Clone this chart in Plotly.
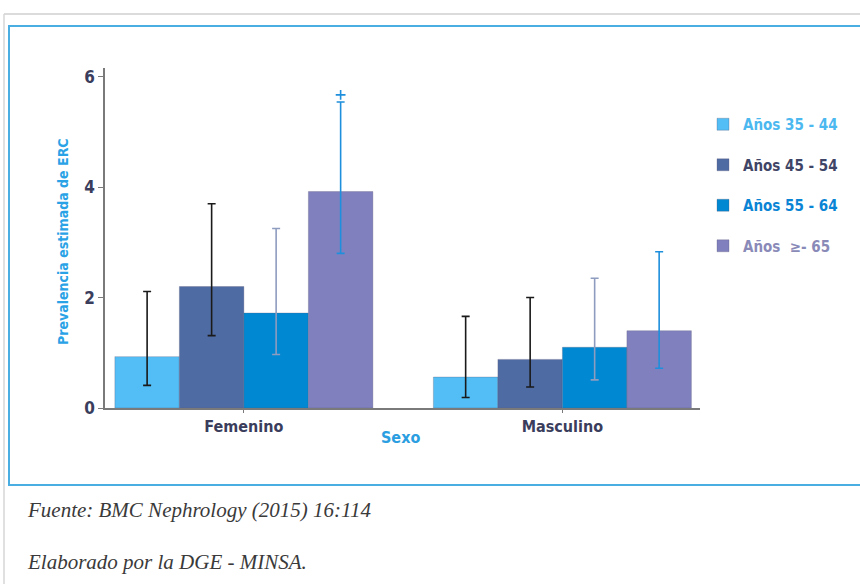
import plotly.graph_objects as go

# Estimated CKD prevalence by sex and age group
sexos = ["Femenino", "Masculino"]
grupos = ["Años 35 - 44", "Años 45 - 54", "Años 55 - 64", "Años  ≥- 65"]
prevalencia = [
    [0.93, 0.56],
    [2.20, 0.88],
    [1.72, 1.10],
    [3.92, 1.40],
]
ic_superior = [
    [2.11, 1.66],
    [3.70, 2.00],
    [3.25, 2.35],
    [5.54, 2.83],
]
ic_inferior = [
    [0.41, 0.19],
    [1.31, 0.38],
    [0.97, 0.51],
    [2.80, 0.72],
]
# outlying point above the ≥65 female interval
atipico_sexo = 0
atipico_valor = 5.67

colores = ["#52BEF5", "#4F6BA3", "#0088D2", "#8180BE"]
colores_error = ["#1a1a1a", "#1a1a1a", "#8e9cc0", "#1e8fdc"]
colores_texto = ["#4cb8f0", "#3f4566", "#0a84d4", "#8a8ab8"]

FONT = "DejaVu Sans Condensed, Liberation Sans Narrow, Arial Narrow, sans-serif"
W, H = 860, 584
ML, MR, MT, MB = 105, 160, 68, 176
PW, PH = W - ML - MR, H - MT - MB
YMAX = 6.157
BARGAP = 0.19

xs = list(range(len(sexos)))
fig = go.Figure()
for i, g in enumerate(grupos):
    up = [s - v for s, v in zip(ic_superior[i], prevalencia[i])]
    dn = [v - l for v, l in zip(prevalencia[i], ic_inferior[i])]
    fig.add_trace(go.Bar(
        x=xs, y=prevalencia[i],
        name=f'<b><span style="color:{colores_texto[i]}">{g}</span></b>',
        marker=dict(color=colores[i], line=dict(width=0.6, color="rgba(90,90,120,0.5)")),
        legendgroup=str(i),
        error_y=dict(type="data", symmetric=False, array=up, arrayminus=dn,
                     color=colores_error[i], thickness=1.6, width=4),
    ))

# position of the ≥65 bar inside its group
n = len(grupos)
bw = (1 - BARGAP) / n
off = -(1 - BARGAP) / 2 + bw * (n - 0.5)
fig.add_trace(go.Scatter(
    x=[atipico_sexo + off], y=[atipico_valor], mode="markers",
    marker=dict(symbol="cross-thin", size=7, line=dict(color="#1e8fdc", width=1.6)),
    showlegend=False, hoverinfo="skip",
))

def px_x(p):
    return (p - ML) / PW

def px_y(p):
    return (H - MB - p) / PH

shapes = [
    # page frame lines
    dict(type="line", xref="paper", yref="paper", x0=px_x(4), x1=px_x(870), y0=px_y(14), y1=px_y(14),
         line=dict(color="#cfcfcf", width=1.5)),
    dict(type="line", xref="paper", yref="paper", x0=px_x(4), x1=px_x(4), y0=px_y(14), y1=px_y(590),
         line=dict(color="#d6d6d6", width=1.5)),
    # blue figure box
    dict(type="rect", xref="paper", yref="paper", x0=px_x(9), x1=px_x(880), y0=px_y(26), y1=px_y(485),
         line=dict(color="#4aaee3", width=2)),
]

serif = "Liberation Serif, Times New Roman, serif"
annotations = [
    dict(text="<b>Sexo</b>", xref="paper", yref="paper", x=px_x(400), y=px_y(438), showarrow=False,
         font=dict(family=FONT, size=16, color="#2a9ee0"), xanchor="center", yanchor="middle"),
    dict(text="<b>Prevalencia estimada de ERC</b>", xref="paper", yref="paper", x=px_x(63), y=px_y(242),
         textangle=-90, showarrow=False, font=dict(family=FONT, size=14, color="#2aa2e6"),
         xanchor="center", yanchor="middle"),
    dict(text="<i>Fuente: BMC Nephrology (2015) 16:114</i>", xref="paper", yref="paper",
         x=px_x(25), y=px_y(510), showarrow=False, xanchor="left", yanchor="middle",
         font=dict(family=serif, size=21, color="#3a3a3a")),
    dict(text="<i>Elaborado por la DGE - MINSA.</i>", xref="paper", yref="paper",
         x=px_x(25), y=px_y(562), showarrow=False, xanchor="left", yanchor="middle",
         font=dict(family=serif, size=21, color="#3a3a3a")),
]

fig.update_layout(
    width=W, height=H,
    margin=dict(l=ML, r=MR, t=MT, b=MB, pad=0),
    paper_bgcolor="white", plot_bgcolor="white",
    barmode="group", bargap=BARGAP, bargroupgap=0,
    font=dict(family=FONT),
    showlegend=True,
    legend=dict(x=px_x(703), y=px_y(108), xanchor="left", yanchor="top",
                font=dict(family=FONT, size=15, color="#3f4566"),
                tracegroupgap=18, itemwidth=30, bgcolor="rgba(0,0,0,0)"),
    shapes=shapes, annotations=annotations,
)
fig.update_xaxes(
    range=[-0.436, 1.432], tickvals=xs, ticktext=[f"<b>{s}</b>" for s in sexos],
    showline=True, linecolor="#7a7a7a", linewidth=1.5, ticks="outside", ticklen=3,
    tickcolor="#7a7a7a", tickfont=dict(family=FONT, size=16, color="#3a3d5c"),
    showgrid=False, zeroline=False,
)
fig.update_yaxes(
    range=[0, YMAX], tickvals=[0, 2, 4, 6], ticktext=["<b>0</b>", "<b>2</b>", "<b>4</b>", "<b>6</b>"],
    showline=True, linecolor="#7a7a7a", linewidth=1.5, ticks="outside", ticklen=5,
    tickcolor="#7a7a7a", tickfont=dict(family=FONT, size=17, color="#3a3d5c"),
    showgrid=False, zeroline=False,
)

fig.write_html("out.html")
